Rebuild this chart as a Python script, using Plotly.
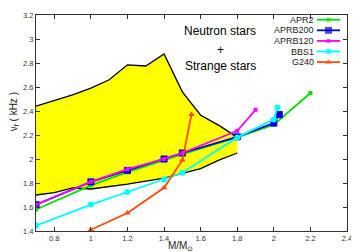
import plotly.graph_objects as go

# ---- data ----
mass_apr2 = [0.7, 1.0, 1.2, 1.4, 1.5, 1.8, 2.0, 2.2]
freq_apr2 = [1.58, 1.78, 1.89, 1.99, 2.04, 2.18, 2.285, 2.55]

mass_aprb200 = [0.7, 1.0, 1.2, 1.4, 1.5, 1.8, 2.0, 2.03]
freq_aprb200 = [1.62, 1.81, 1.905, 2.00, 2.05, 2.185, 2.30, 2.37]

mass_aprb120 = [0.7, 1.0, 1.2, 1.4, 1.5, 1.8, 1.9]
freq_aprb120 = [1.62, 1.81, 1.915, 2.00, 2.05, 2.235, 2.41]

mass_bbs1 = [0.7, 1.0, 1.2, 1.4, 1.5, 1.8, 2.0, 2.02]
freq_bbs1 = [1.445, 1.62, 1.725, 1.83, 1.885, 2.18, 2.33, 2.43]

mass_g240 = [1.0, 1.2, 1.4, 1.5, 1.55]
freq_g240 = [1.41, 1.55, 1.76, 1.99, 2.37]

band_mass_upper = [0.7, 0.8, 0.9, 1.0, 1.1, 1.2, 1.3, 1.4, 1.5, 1.6, 1.7, 1.8]
band_freq_upper = [2.44, 2.485, 2.535, 2.59, 2.66, 2.785, 2.775, 2.875, 2.56, 2.365, 2.28, 2.18]
band_mass_lower = [0.7, 0.8, 0.9, 1.0, 1.2, 1.4, 1.5, 1.6, 1.7, 1.8]
band_freq_lower = [1.70, 1.72, 1.76, 1.75, 1.79, 1.84, 1.88, 1.92, 1.99, 2.05]

x_ticks = [0.8, 1.0, 1.2, 1.4, 1.6, 1.8, 2.0, 2.2, 2.4]
x_tick_labels = ["0.8", "1", "1.2", "1.4", "1.6", "1.8", "2", "2.2", "2.4"]
y_ticks = [1.4, 1.6, 1.8, 2.0, 2.2, 2.4, 2.6, 2.8, 3.0, 3.2]
y_tick_labels = ["1.4", "1.6", "1.8", "2", "2.2", "2.4", "2.6", "2.8", "3", "3.2"]

series_names = ["APR2", "APRB200", "APRB120", "BBS1", "G240"]
series_colors = ["#00e000", "#0000e0", "#ff00ff", "#00ffff", "#ff4c0a"]
series_symbols = ["square", "square", "square", "circle", "triangle-up"]
series_sizes = [4, 7, 4, 6, 6]
series_x = [mass_apr2, mass_aprb200, mass_aprb120, mass_bbs1, mass_g240]
series_y = [freq_apr2, freq_aprb200, freq_aprb120, freq_bbs1, freq_g240]

FONT = "Liberation Sans, Arial, sans-serif"

# page body has an 8px default margin; figure is shrunk/shifted to compensate
TOP = 3
PLOT_W = 311
PLOT_H = 244 - 21 - TOP

fig = go.Figure()

# yellow band
fig.add_trace(go.Scatter(
    x=band_mass_upper + band_mass_lower[::-1],
    y=band_freq_upper + band_freq_lower[::-1],
    fill="toself", fillcolor="#ffff00", mode="lines",
    line=dict(width=0, color="#ffff00"), hoverinfo="skip", showlegend=False))
fig.add_trace(go.Scatter(x=band_mass_upper, y=band_freq_upper, mode="lines",
                         line=dict(color="black", width=1.3), showlegend=False))
fig.add_trace(go.Scatter(x=band_mass_lower, y=band_freq_lower, mode="lines",
                         line=dict(color="black", width=1.3), showlegend=False))

for nm, c, s, sz, xs, ys in zip(series_names, series_colors, series_symbols,
                                series_sizes, series_x, series_y):
    fig.add_trace(go.Scatter(x=xs, y=ys, mode="lines+markers", name=nm,
                             line=dict(color=c, width=1.8),
                             marker=dict(color=c, symbol=s, size=sz, line=dict(width=0)),
                             showlegend=False))

# custom gnuplot-style legend (text left, sample right)
def px_x(p):
    return (p - 36) / PLOT_W

def px_y(p):
    return (231 - p) / PLOT_H

leg_x0, leg_xm, leg_x1 = px_x(317), px_x(328.5), px_x(340)
leg_rows = [px_y(p) for p in [15.8, 26.6, 37.4, 48.2, 59.0]]
for i, (nm, c, s, sz) in enumerate(zip(series_names, series_colors, series_symbols, series_sizes)):
    yy = leg_rows[i]
    fig.add_trace(go.Scatter(x=[leg_x0, leg_xm, leg_x1], y=[yy, yy, yy],
                             xaxis="x2", yaxis="y2", mode="lines+markers",
                             line=dict(color=c, width=1.8),
                             marker=dict(color=c, symbol=s, size=[0, sz, 0], line=dict(width=0)),
                             showlegend=False, hoverinfo="skip"))
    fig.add_annotation(x=px_x(315.5), y=yy, xref="paper", yref="paper", text=nm,
                       showarrow=False, xanchor="right", yanchor="middle",
                       font=dict(family=FONT, size=9, color="#222"))

# labels in plot
for txt, p in [("Neutron stars", 27), ("+", 46.7), ("Strange stars", 63.3)]:
    fig.add_annotation(x=px_x(220), y=px_y(p), xref="paper", yref="paper", text=txt,
                       showarrow=False, xanchor="center", yanchor="middle",
                       font=dict(family=FONT, size=12, color="black"))

# axis titles
fig.add_annotation(x=px_x(180), y=px_y(246), xref="paper", yref="paper",
                   text="M/M<sub>⊙</sub>", showarrow=False, xanchor="center", yanchor="middle",
                   font=dict(family=FONT, size=10, color="#222"))
fig.add_annotation(x=px_x(14), y=px_y(110), xref="paper", yref="paper",
                   text="ν<sub>f</sub> ( kHz )", showarrow=False, textangle=-90,
                   xanchor="center", yanchor="middle",
                   font=dict(family=FONT, size=10, color="#222"))

axis_common = dict(showgrid=False, zeroline=False, showline=True, linecolor="#333",
                   linewidth=1, mirror="ticks", ticks="inside", ticklen=4,
                   tickcolor="#333", ticklabeloverflow="allow",
                   tickfont=dict(family=FONT, size=7.5, color="#333"))

fig.update_layout(
    width=351, height=244,
    margin=dict(l=28, r=12, t=TOP, b=21),
    paper_bgcolor="white", plot_bgcolor="white",
    showlegend=False,
    xaxis=dict(range=[0.7, 2.4], tickvals=x_ticks, ticktext=x_tick_labels, **axis_common),
    yaxis=dict(range=[1.4, 3.2], tickvals=y_ticks, ticktext=y_tick_labels, **axis_common),
    xaxis2=dict(overlaying="x", range=[0, 1], visible=False, anchor="y2"),
    yaxis2=dict(overlaying="y", range=[0, 1], visible=False, anchor="x2"),
)

fig.write_html("out.html")
